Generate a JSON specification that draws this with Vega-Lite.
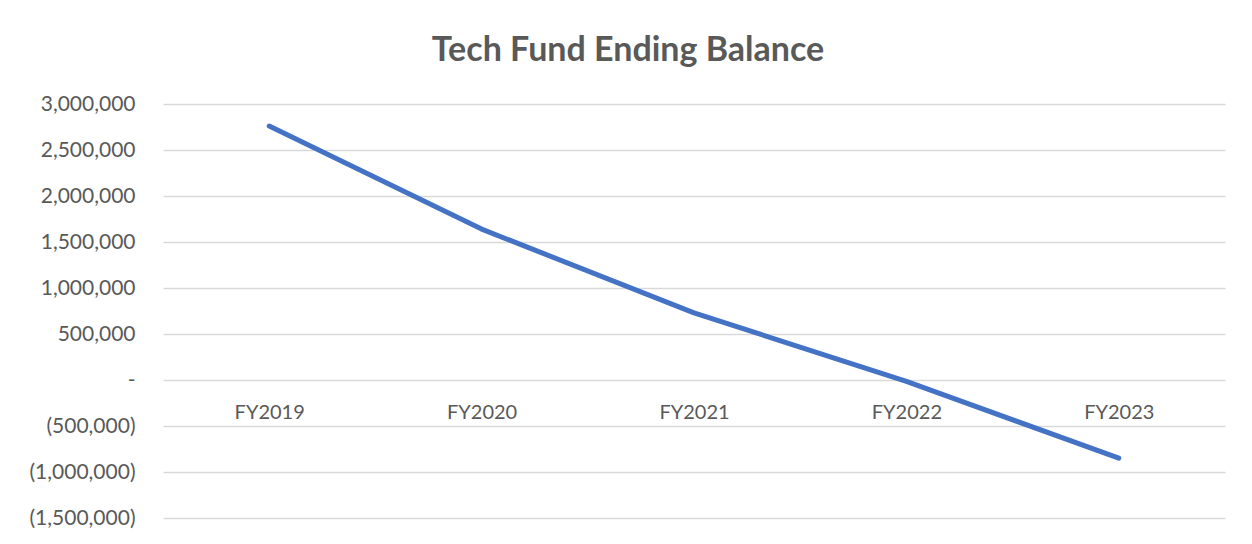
{
  "$schema": "https://vega.github.io/schema/vega-lite/v6.json",
  "autosize": "none",
  "width": 1062,
  "height": 414,
  "padding": {"left": 163, "top": 104, "right": 27, "bottom": 26},
  "background": "white",
  "title": {
    "text": "Tech Fund Ending Balance",
    "font": "Lato",
    "fontSize": 34,
    "fontWeight": "bold",
    "color": "#595959",
    "anchor": "middle",
    "dx": -66,
    "offset": 25
  },
  "data": {
    "values": [
      {"year": "FY2019", "balance": 2760000},
      {"year": "FY2020", "balance": 1640000},
      {"year": "FY2021", "balance": 730000},
      {"year": "FY2022", "balance": -15000},
      {"year": "FY2023", "balance": -850000}
    ]
  },
  "mark": {"type": "line", "color": "#4472C4", "strokeWidth": 5, "strokeCap": "round", "strokeJoin": "round"},
  "encoding": {
    "x": {
      "field": "year",
      "type": "nominal",
      "sort": null,
      "scale": {"paddingInner": 0, "paddingOuter": 0},
      "axis": {
        "title": null,
        "labelAngle": 0,
        "domain": false,
        "ticks": false,
        "grid": false,
        "offset": -138,
        "labelPadding": 22,
        "labelFont": "Lato",
        "labelFontSize": 20,
        "labelColor": "#595959"
      }
    },
    "y": {
      "field": "balance",
      "type": "quantitative",
      "scale": {"domain": [-1500000, 3000000], "nice": false, "zero": false},
      "axis": {
        "title": null,
        "values": [-1500000, -1000000, -500000, 0, 500000, 1000000, 1500000, 2000000, 2500000, 3000000],
        "domain": false,
        "ticks": false,
        "grid": true,
        "gridColor": "#d9d9d9",
        "gridWidth": 1.5,
        "labelPadding": 28,
        "labelFont": "Lato",
        "labelFontSize": 21,
        "labelColor": "#595959",
        "labelExpr": "datum.value == 0 ? '-' : datum.value < 0 ? '(' + format(-datum.value, ',') + ')' : format(datum.value, ',')",
        "encode": {"labels": {"update": {"dx": {"signal": "datum.value < 0 ? 5 : datum.value == 0 ? -9 : 0"}}}}
      }
    }
  },
  "config": {"view": {"stroke": null}}
}
